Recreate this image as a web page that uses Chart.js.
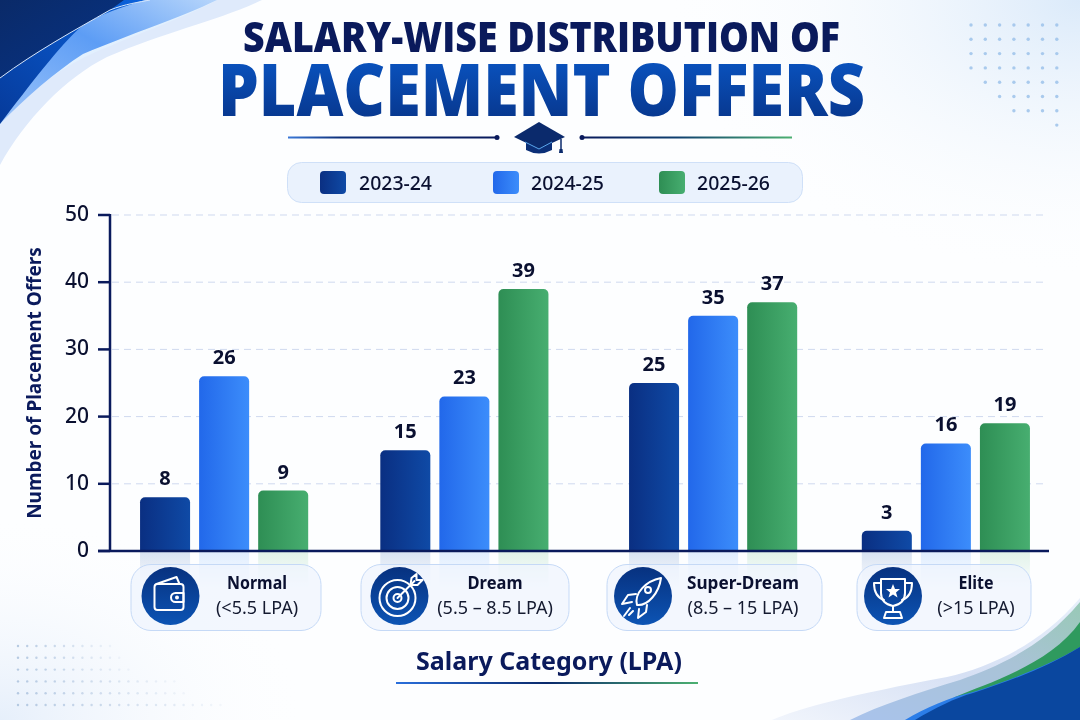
<!DOCTYPE html>
<html><head><meta charset="utf-8">
<style>
html,body{margin:0;padding:0;background:#fff;width:1080px;height:720px;overflow:hidden}
#stage{position:relative;width:1080px;height:720px;font-family:"Noto Sans",sans-serif}
#stage>svg,#stage>canvas{position:absolute;left:0;top:0}
</style>
<script src="https://cdn.jsdelivr.net/npm/chart.js@4"></script>
</head><body>
<div id="stage">
<svg id="bg" width="1080" height="720" viewBox="0 0 1080 720"></svg>
<canvas id="c" width="1080" height="720"></canvas>
<svg id="fg" width="1080" height="720" viewBox="0 0 1080 720"></svg>
</div>
<script>
const categories = ['Normal','Dream','Super-Dream','Elite'];
const ranges = ['(<5.5 LPA)','(5.5 – 8.5 LPA)','(8.5 – 15 LPA)','(>15 LPA)'];
const seriesNames = ['2023-24','2024-25','2025-26'];
const values2324 = [8,15,25,3];
const values2425 = [26,23,35,16];
const values2526 = [9,39,37,19];
const yTicks = [0,10,20,30,40,50];

const NAVY='#0a1a5c';
// --- decoration behind the chart
const dots=[];
for(let r=0;r<8;r++){const start=[0,0,0,0,1,2,3,6][r];
  for(let k=start;k<7;k++)dots.push(`<circle cx="${971+k*14.3}" cy="${25+r*14.3}" r="1.7" fill="#9cc2ea" opacity=".85"/>`);}
const rowLen=[11,12,13,18,19,23];
for(let r=0;r<6;r++)for(let k=0;k<rowLen[r];k++)
  dots.push(`<circle cx="${18+k*9.2}" cy="${646+r*11.8}" r="1.2" fill="#a9c0dc" opacity="${(0.75*(1-k/rowLen[r])+.08).toFixed(2)}"/>`);
document.getElementById('bg').innerHTML=`
<defs>
<radialGradient id="tr" cx="1" cy="0" r=".4"><stop offset="0" stop-color="#dbeafa"/><stop offset="1" stop-color="#fff" stop-opacity="0"/></radialGradient>
<radialGradient id="bl" cx="0" cy="1" r=".3"><stop offset="0" stop-color="#e6effb"/><stop offset="1" stop-color="#fff" stop-opacity="0"/></radialGradient>
<linearGradient id="lb" x1="0" y1="1" x2="1" y2="0"><stop offset="0" stop-color="#9cc4fa"/><stop offset=".55" stop-color="#5d9df5"/><stop offset="1" stop-color="#b6d5fb"/></linearGradient>
<linearGradient id="mb" x1="0" y1="1" x2="1" y2="0"><stop offset="0" stop-color="#063a9a"/><stop offset="1" stop-color="#0a62dc"/></linearGradient>
<linearGradient id="nv" x1="0" y1="0" x2="1" y2="1"><stop offset="0" stop-color="#0a2a68"/><stop offset="1" stop-color="#073488"/></linearGradient>
<linearGradient id="mid" x1="0" y1="1" x2="1" y2="0"><stop offset="0" stop-color="#a9c3ec"/><stop offset=".6" stop-color="#a9c3d6"/><stop offset="1" stop-color="#98c9b6"/></linearGradient>
<linearGradient id="pal" x1="0" y1="1" x2="1" y2="0"><stop offset="0" stop-color="#f1f5fc"/><stop offset=".5" stop-color="#d6e0f4"/><stop offset="1" stop-color="#e8f0fb"/></linearGradient>
</defs>
<rect width="1080" height="720" fill="#fdfeff"/>
<rect width="1080" height="720" fill="url(#tr)"/>
<rect width="1080" height="720" fill="url(#bl)"/>
<path d="M0,165 C25,120 65,78 107,57 C165,32 220,20 262,0 L0,0 Z" fill="#dfeafb"/>
<path d="M0,125 C25,95 55,72 85,57 C130,36 180,20 217,0 L0,0 Z" fill="#e2f0fe"/>
<path d="M0,124 C25,98 55,72 83,54 C130,34 180,18 217,0 L0,0 Z" fill="url(#lb)"/>
<path d="M0,124 C30,85 60,45 82,26 C100,14 125,6 145,0 L0,0 Z" fill="url(#mb)"/>
<path d="M0,78 C35,52 75,30 110,10 L124,0 L0,0 Z" fill="url(#nv)"/>
<path d="M0,78 C35,52 75,30 110,10 C125,4 140,2 150,0" fill="none" stroke="#d6e6fb" stroke-width="1"/>
<path d="M772,720 C800,708 850,695 947,677 C990,667 1040,645 1080,598 L1080,720 Z" fill="url(#pal)"/>
<path d="M850,720 C880,705 920,692 960,680 C995,667 1040,650 1080,602 L1080,720 Z" fill="url(#mid)"/>
<path d="M955,697 C985,684 1050,665 1080,622 L1080,720 L920,720 Z" fill="#2f9a5e"/>
<path d="M905,720 C925,708 950,697 973,692 C1010,680 1050,665 1080,647 L1080,720 Z" fill="#2b7de8"/>
<path d="M915,720 C935,708 955,698 973,693 C1010,681 1050,666 1080,647 L1080,720 Z" fill="#0a479f"/>
${dots.join('')}
<rect x="287.5" y="162.5" width="515" height="40" rx="14" fill="#eaf2fd" stroke="#cfe0f8"/>`;

// --- chart
const ctx=document.getElementById('c').getContext('2d');
const groupShift=[0,0,8.5,1];
function grad(a,b){return c=>{
  const sx=c.chart.scales.x;
  if(!sx||c.dataIndex===undefined)return a;
  const x=sx.getPixelForValue(c.dataIndex)+groupShift[c.dataIndex]+(c.datasetIndex-1)*59;
  if(!isFinite(x))return a;
  const g=ctx.createLinearGradient(x-25,0,x+25,0);g.addColorStop(0,a);g.addColorStop(1,b);return g;};}
const seriesColours=[['#0a2f82','#0f4aa6'],['#2268ea','#3c8dfb'],['#2e8e54','#47ae70']];
const frame={
  id:'frame',
  afterDatasetsUpdate(chart){
    chart.getSortedVisibleDatasetMetas().forEach(m=>m.data.forEach((el,i)=>{el.x+=groupShift[i];}));
  },
  beforeDatasetsDraw(chart){
    const c=chart.ctx,y=chart.scales.y;
    c.save();
    c.setLineDash([7,5]);c.lineWidth=1;c.strokeStyle='#cfd9ef';
    yTicks.filter(t=>t>0).forEach(t=>{const p=y.getPixelForValue(t);c.beginPath();c.moveTo(112,p);c.lineTo(1048,p);c.stroke();});
    c.restore();
    // soft reflection under the bars
    chart.getSortedVisibleDatasetMetas().forEach((m,d)=>m.data.forEach(el=>{
      const base=y.getPixelForValue(0);
      const g=c.createLinearGradient(0,base,0,base+36);
      g.addColorStop(0,seriesColours[d][1]+'28');g.addColorStop(1,seriesColours[d][1]+'00');
      c.fillStyle=g;c.fillRect(el.x-25,base,50,36);
    }));
  },
  afterDatasetsDraw(chart){
    const c=chart.ctx,y=chart.scales.y;
    c.save();
    c.strokeStyle=NAVY;c.lineWidth=2.5;c.setLineDash([]);
    c.beginPath();c.moveTo(110,y.getPixelForValue(50)-1);c.lineTo(110,y.getPixelForValue(0));c.stroke();
    c.beginPath();c.moveTo(98,y.getPixelForValue(0));c.lineTo(1049,y.getPixelForValue(0));c.stroke();
    yTicks.forEach(t=>{const p=y.getPixelForValue(t);c.beginPath();c.moveTo(98,p);c.lineTo(110,p);c.stroke();});
    c.fillStyle='#0a1030';c.font='700 20px "Noto Sans"';c.textAlign='center';c.textBaseline='alphabetic';
    chart.getSortedVisibleDatasetMetas().forEach((m,d)=>m.data.forEach((el,i)=>{
      c.fillText(String(chart.data.datasets[d].data[i]),el.x,el.y-12);
    }));
    c.restore();
  }
};
const makeSet=(label,data,i)=>({label,data,backgroundColor:grad(seriesColours[i][0],seriesColours[i][1]),
  borderRadius:{topLeft:5,topRight:5},borderSkipped:'bottom',categoryPercentage:.7375,barPercentage:.847});
new Chart(ctx,{
  type:'bar',
  data:{labels:categories,datasets:[makeSet(seriesNames[0],values2324,0),makeSet(seriesNames[1],values2425,1),makeSet(seriesNames[2],values2526,2)]},
  plugins:[frame],
  options:{
    responsive:false,animation:false,
    layout:{padding:{left:24,right:15,top:215,bottom:169}},
    plugins:{legend:{display:false},tooltip:{enabled:false},title:{display:false}},
    scales:{
      x:{grid:{display:false},border:{display:false},ticks:{display:false},afterFit(s){s.height=0;}},
      y:{min:0,max:50,grid:{display:false,drawTicks:false},border:{display:false},
        afterBuildTicks(s){s.ticks=yTicks.map(v=>({value:v}));},
        afterFit(s){s.width=80;},
        ticks:{padding:15,color:'#0a1030',font:{family:'"Noto Sans"',size:21,weight:'500'}},
        title:{display:true,text:'Number of Placement Offers',color:NAVY,padding:0,font:{family:'"Noto Sans"',size:19,weight:'700'}}}
    }
  }
});

// --- text, legend, cards
const cardBox=[[131,190,170.5,257,60],[361,208,399.5,495,55],[607,215,643,743,112],[857,174,893,976,35]];
const icons=[
 `<rect x="-16" y="-12" width="29" height="26" rx="3"/><path d="M-14,-12 L6,-19 L9,-12"/><path d="M13,-3 H5 a3,3 0 0 0 0,9 H13 Z" /><circle cx="6.5" cy="1.5" r="1"/>`,
 `<circle cx="-2" cy="2" r="18"/><circle cx="-2" cy="2" r="11"/><circle cx="-2" cy="2" r="4"/><path d="M-2,2 L15,-15"/><path d="M11,-11 L12,-18 L17,-22 L17,-16 L23,-16 L18,-11 Z"/>`,
 `<path d="M-7,8 C-10,-4 2,-16 17,-19 C15,-4 4,9 -7,8 Z" transform="translate(1,1)"/><circle cx="5" cy="-6" r="3"/><path d="M-7,-2 L-15,-1 L-21,8 L-11,6"/><path d="M4,9 L3,16 L-5,22 L-4,13"/><path d="M-13,12 L-19,20 M-10,15 L-14,19"/>`,
 `<path d="M-12,-17 H12 V-3 C12,6 5,9 0,10 C-5,9 -12,6 -12,-3 Z"/><path d="M-12,-13 H-19 C-19,-3 -15,2 -9,4"/><path d="M12,-13 H19 C19,-3 15,2 9,4"/><path d="M0,10 V16 M-7,16 H7 L9,22 H-9 Z"/><path d="M0,-12 L2,-7 L7,-7 L3,-3.5 L4.5,1.5 L0,-1.5 L-4.5,1.5 L-3,-3.5 L-7,-7 L-2,-7 Z" fill="#fff" stroke="none"/>`
];
const swX=[320,493,659],txX=[359,531,697];
const legend=seriesNames.map((n,i)=>`<rect x="${swX[i]}" y="171" width="26" height="23" rx="4" fill="url(#sw${i})"/>
<text x="${txX[i]}" y="190" font-size="20" font-weight="500" fill="#0a1030" textLength="73" lengthAdjust="spacingAndGlyphs">${n}</text>`).join('');
const cards=categories.map((n,i)=>{const [x,w,cx,tx,nw]=cardBox[i];return `
<rect x="${x}" y="564.5" width="${w}" height="66" rx="20" fill="#eef4fd" fill-opacity=".72" stroke="#c5d9f6"/>
<circle cx="${cx}" cy="596" r="29" fill="url(#ic)"/>
<g transform="translate(${cx},596)" fill="none" stroke="#fff" stroke-width="2" stroke-linejoin="round" stroke-linecap="round">${icons[i]}</g>
<text x="${tx}" y="589" text-anchor="middle" font-size="18.5" font-weight="700" fill="#0a1030" textLength="${nw}" lengthAdjust="spacingAndGlyphs">${n}</text>
<text x="${tx}" y="614" text-anchor="middle" font-size="18" fill="#141a30">${ranges[i].replace('<','&lt;').replace('>','&gt;')}</text>`;}).join('');
document.getElementById('fg').innerHTML=`
<defs>
<linearGradient id="sw0" x1="0" x2="1"><stop offset="0" stop-color="#0a2f82"/><stop offset="1" stop-color="#0f4aa6"/></linearGradient>
<linearGradient id="sw1" x1="0" x2="1"><stop offset="0" stop-color="#2268ea"/><stop offset="1" stop-color="#3c8dfb"/></linearGradient>
<linearGradient id="sw2" x1="0" x2="1"><stop offset="0" stop-color="#2e8e54"/><stop offset="1" stop-color="#47ae70"/></linearGradient>
<linearGradient id="ic" x1="0" y1="0" x2="0" y2="1"><stop offset="0" stop-color="#07317f"/><stop offset="1" stop-color="#0c54b4"/></linearGradient>
<linearGradient id="t2" x1="0" y1="0" x2="0" y2="1"><stop offset="0" stop-color="#0a5ccf"/><stop offset="1" stop-color="#072f80"/></linearGradient>
<linearGradient id="r1" x1="0" x2="1"><stop offset="0" stop-color="#3a78d8"/><stop offset=".25" stop-color="#0d2f7a"/><stop offset="1" stop-color="#0a1a5c"/></linearGradient>
<linearGradient id="r2" x1="0" x2="1"><stop offset="0" stop-color="#0a1a5c"/><stop offset=".45" stop-color="#0f3f70"/><stop offset="1" stop-color="#4cb071"/></linearGradient>
<linearGradient id="r3" x1="0" x2="1"><stop offset="0" stop-color="#2a6fdc"/><stop offset=".5" stop-color="#0a2a6c"/><stop offset="1" stop-color="#4cb071"/></linearGradient>
</defs>
<text x="243" y="52" font-family="'Open Sans'" font-size="42" font-weight="800" fill="${NAVY}" textLength="597" lengthAdjust="spacingAndGlyphs">SALARY-WISE DISTRIBUTION OF</text>
<text x="218" y="116" font-family="'Open Sans'" font-size="72" font-weight="800" fill="url(#t2)" textLength="647" lengthAdjust="spacingAndGlyphs">PLACEMENT OFFERS</text>
<rect x="288" y="136.5" width="209" height="2" fill="url(#r1)"/><circle cx="497" cy="137.5" r="2.5" fill="${NAVY}"/>
<rect x="582" y="136.5" width="210" height="2" fill="url(#r2)"/><circle cx="582" cy="137.5" r="2.5" fill="${NAVY}"/>
<path d="M526,141 V150 Q539,157 552,150 V141 L539,147 Z" fill="#0b2f78"/>
<path d="M539,122 L565,137 L539,149 L514,137 Z" fill="#0b2a6c"/>
<path d="M525,142 L539,149 L552,142" fill="none" stroke="#5aa7ee" stroke-width="1"/>
<path d="M561,139 V149" stroke="#0b2a6c" stroke-width="1.5"/><path d="M559.5,149 H562.5 L563,153 H559 Z" fill="#0b2a6c"/>
${legend}
${cards}
<text x="549" y="670" text-anchor="middle" font-size="25" font-weight="700" fill="${NAVY}">Salary Category (LPA)</text>
<rect x="396" y="682" width="302" height="2" fill="url(#r3)"/>`;
</script>
</body></html>
